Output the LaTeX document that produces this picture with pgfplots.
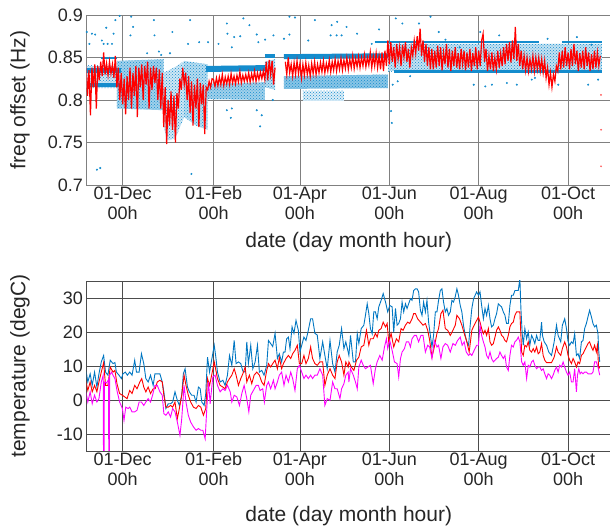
\documentclass[border=0pt]{standalone}
\usepackage{fontspec}
\setmainfont{Liberation Sans}
\usepackage{pgfplots}
\pgfplotsset{compat=1.18}
\usetikzlibrary{patterns}
\definecolor{dotblue}{RGB}{20,140,205}
\definecolor{lineblue}{RGB}{0,118,194}
\definecolor{tred}{RGB}{255,0,0}
\definecolor{tmag}{RGB}{255,0,255}

% shared look of both panels (x = days after 01-Dec)
\pgfplotsset{
  dateaxis/.style={
    scale only axis, width=524.5pt, height=170pt,
    xmin=-24.7, xmax=333.3,
    xtick={0,62,121,182,243,304},
    xticklabels={{01-Dec\\00h},{01-Feb\\00h},{01-Apr\\00h},{01-Jun\\00h},{01-Aug\\00h},{01-Oct\\00h}},
    xticklabel style={align=center, font=\fontsize{18}{20}\selectfont, text=black!85, yshift=2pt},
    yticklabel style={font=\fontsize{18}{20}\selectfont, text=black!85},
    label style={font=\fontsize{21}{24}\selectfont, text=black!85},
    ylabel style={at={(axis description cs:-0.127,0.5)}, anchor=center},
    grid=major, tick style={draw=none},
    xlabel={date (day month hour)},
  },
  dotcloud/.style={draw=none, pattern=crosshatch dots, pattern color=dotblue},
}

\begin{document}
\begin{tikzpicture}[x=1pt,y=1pt]
\useasboundingbox (0,0) rectangle (610,529);

% ---------------- frequency offset ----------------
\begin{axis}[dateaxis, at={(86.5pt,344pt)},
  ymin=0.7, ymax=0.9,
  ytick={0.7,0.75,0.8,0.85,0.9}, yticklabels={0.7,0.75,0.8,0.85,0.9},
  ylabel={freq offset (Hz)},
  xlabel style={at={(axis description cs:0.5,-0.333)}, anchor=center},
  major grid style={black!50, line width=0.9pt},
  axis line style={black!50, line width=0.9pt}]
% dense scatter regions
\addplot[dotcloud, preaction={fill=dotblue!20}] coordinates {(-25,0.840) (-4,0.840) (-4,0.814) (-25,0.814)} -- cycle;
\addplot[dotcloud, preaction={fill=dotblue!40}] coordinates {(-4,0.846) (28,0.848) (28,0.788) (-4,0.790)} -- cycle;
\addplot[dotcloud, preaction={fill=dotblue!20}] coordinates {(28,0.832) (37,0.840) (42,0.846) (42,0.780) (36,0.755) (30,0.752) (28,0.770)} -- cycle;
\addplot[dotcloud, preaction={fill=dotblue!30}] coordinates {(42,0.846) (58,0.842) (58,0.765) (50,0.770) (42,0.780)} -- cycle;
\addplot[dotcloud, preaction={fill=dotblue!40}] coordinates {(57,0.819) (97,0.821) (97,0.800) (57,0.801)} -- cycle;
\addplot[dotcloud, preaction={fill=dotblue!30}] coordinates {(97,0.845) (104,0.848) (104,0.812) (97,0.815)} -- cycle;
\addplot[dotcloud, preaction={fill=dotblue!50}] coordinates {(110,0.828) (181,0.830) (181,0.814) (110,0.813)} -- cycle;
\addplot[dotcloud, preaction={fill=dotblue!15}] coordinates {(123,0.811) (151,0.811) (151,0.799) (123,0.799)} -- cycle;
\addplot[dotcloud, preaction={fill=dotblue!25}] coordinates {(181,0.866) (327,0.866) (327,0.834) (181,0.834)} -- cycle;
% quantised bands
\addplot[dotblue, line width=5pt] coordinates {(-25,0.8345) (-1,0.8345)};
\addplot[dotblue, line width=3.5pt] coordinates {(-23,0.8175) (-2,0.8175)};
\addplot[dotblue, line width=2.5pt] coordinates {(-15,0.8495) (-4,0.8495)};
\addplot[dotblue, line width=6pt] coordinates {(57,0.8365) (97,0.8375)};
\addplot[dotblue, line width=3.5pt] coordinates {(97,0.8515) (104,0.8515)};
\addplot[dotblue, line width=5pt] coordinates {(110,0.851) (181,0.852)};
\addplot[dotblue, line width=2.5pt] coordinates {(172,0.868) (200,0.868)};
\addplot[dotblue, line width=2.5pt] coordinates {(204,0.868) (284,0.868)};
\addplot[dotblue, line width=2.5pt] coordinates {(300,0.868) (327,0.868)};
\addplot[dotblue, line width=3.5pt] coordinates {(185,0.8335) (327,0.8335)};
% outliers
\addplot[only marks, mark=*, mark size=0.8pt, dotblue] coordinates {
(-24.5,0.880) (-22.7,0.866) (-21,0.878) (-18.8,0.877) (-14.2,0.870) (-13,0.866) (-11.2,0.885) (-10.3,0.866)
(-7.3,0.866) (-6.2,0.878) (-5,0.894) (-2.1,0.899) (5.3,0.876) (7.1,0.886) (5.8,0.898) (16.7,0.855)
(21.7,0.876) (21.3,0.894) (24.7,0.857) (26.3,0.853) (32.3,0.855) (33.9,0.880) (46,0.894) (44.6,0.866)
(52.2,0.868) (58.3,0.868) (-17.6,0.718) (-15.3,0.720) (46.9,0.713) (65.4,0.866) (71.1,0.890) (71.5,0.878)
(74.5,0.862) (76.1,0.874) (80.2,0.875) (82.4,0.896) (86.5,0.888) (91.5,0.877) (92.6,0.868) (97.2,0.871)
(102.9,0.876) (113.8,0.898) (117.6,0.897) (110.1,0.872) (113.8,0.877) (126.7,0.870) (131.2,0.894) (142.6,0.888)
(146.4,0.892) (141.9,0.876) (146,0.876) (149.4,0.876) (152.8,0.886) (71.1,0.788) (74.5,0.790) (73.8,0.779)
(91.5,0.788) (93.8,0.769) (94.9,0.782) (102.4,0.800) (186.4,0.896) (190.9,0.890) (202.2,0.890) (210.1,0.898)
(215.7,0.880) (220.3,0.871) (244.1,0.880) (183.2,0.787) (183.7,0.773) (187.7,0.822) (184.3,0.818) (247.5,0.816)
(252,0.818) (262.2,0.820) (269,0.818) (279.2,0.824) (297.3,0.818) (317.7,0.818) (324.5,0.824) (281.4,0.826)
(196.2,0.828) (239.6,0.818) (160,0.878) (170,0.866) (175,0.883) (230,0.862) (257,0.876) (290,0.872)
(310,0.874) (320,0.865)};
% filtered offset
\addplot[tred, line width=1.2pt] coordinates {
(-25,0.840) (-24,0.805) (-23,0.835) (-22,0.782) (-21,0.838) (-20,0.815) (-19,0.842) (-18,0.790) (-17,0.840) (-16,0.823)
(-15,0.845) (-14,0.828) (-13,0.856) (-12,0.830) (-11,0.843) (-10,0.829) (-9,0.845) (-8,0.831) (-7,0.842) (-6,0.826)
(-5,0.852) (-4,0.815) (-3,0.838) (-2,0.800) (-1,0.832) (0,0.795) (1,0.825) (2,0.783) (3,0.828) (4,0.800)
(5,0.838) (6,0.790) (7,0.832) (8,0.805) (9,0.840) (10,0.780) (11,0.838) (12,0.815) (13,0.842) (14,0.800)
(15,0.840) (16,0.818) (17,0.845) (18,0.790) (19,0.838) (20,0.812) (21,0.840) (22,0.820) (23,0.838) (24,0.800)
(25,0.836) (26,0.790) (27,0.832) (28,0.768) (29,0.815) (30,0.748) (31,0.800) (32,0.770) (33,0.810) (34,0.765)
(35,0.805) (36,0.750) (37,0.808) (38,0.790) (39,0.825) (40,0.812) (41,0.838) (42,0.818) (43,0.832) (44,0.800)
(45,0.828) (46,0.785) (47,0.822) (48,0.770) (49,0.818) (50,0.790) (51,0.825) (52,0.768) (53,0.820) (54,0.795)
(55,0.818) (56,0.760) (57,0.815) (58,0.812) (59,0.822) (60,0.815) (61,0.825)
(62,0.824) (63,0.816) (64,0.826) (65,0.817) (66,0.827) (67,0.818) (68,0.830) (69,0.817) (70,0.827) (71,0.819)
(72,0.828) (73,0.818) (74,0.831) (75,0.820) (76,0.828) (77,0.819) (78,0.829) (79,0.821) (80,0.833) (81,0.820)
(82,0.829) (83,0.822) (84,0.830) (85,0.822) (86,0.832) (87,0.821) (88,0.831) (89,0.823) (90,0.834) (91,0.822)
(92,0.832) (93,0.824) (94,0.833) (95,0.825) (96,0.834) (97,0.824) (98,0.845) (99,0.823) (100,0.847) (101,0.830)
(102,0.846) (103,0.818) (104,0.838)};
\addplot[tred, line width=1.2pt] coordinates {
(111,0.845) (112,0.830) (113,0.850) (114,0.832) (115,0.842) (116,0.828) (117,0.844) (118,0.830) (119,0.846) (120,0.831)
(121,0.843) (122,0.826) (123,0.842) (124,0.829) (125,0.844) (126,0.830) (127,0.841) (128,0.828) (129,0.843) (130,0.831)
(131,0.845) (132,0.830) (133,0.842) (134,0.832) (135,0.844) (136,0.833) (137,0.846) (138,0.832) (139,0.843) (140,0.834)
(141,0.847) (142,0.833) (143,0.845) (144,0.835) (145,0.848) (146,0.834) (147,0.846) (148,0.836) (149,0.849) (150,0.835)
(151,0.847) (152,0.837) (153,0.850) (154,0.836) (155,0.848) (156,0.838) (157,0.852) (158,0.837) (159,0.849) (160,0.839)
(161,0.851) (162,0.838) (163,0.850) (164,0.840) (165,0.853) (166,0.839) (167,0.850) (168,0.841) (169,0.856) (170,0.838)
(171,0.852) (172,0.840) (173,0.855) (174,0.838) (175,0.852) (176,0.836) (177,0.856) (178,0.834) (179,0.858) (180,0.840)
(181,0.870) (182,0.842) (183,0.868) (184,0.845) (185,0.862) (186,0.838) (187,0.866) (188,0.848) (189,0.862) (190,0.840)
(191,0.865) (192,0.850) (193,0.868) (194,0.845) (195,0.860) (196,0.838) (197,0.862) (198,0.852) (199,0.870) (200,0.855)
(201,0.875) (202,0.858) (203,0.884) (204,0.852) (205,0.870) (206,0.845) (207,0.866) (208,0.840) (209,0.862) (210,0.836)
(211,0.860) (212,0.836) (213,0.858) (214,0.838) (215,0.864) (216,0.840) (217,0.862) (218,0.835) (219,0.856) (220,0.842)
(221,0.866) (222,0.838) (223,0.860) (224,0.834) (225,0.858) (226,0.840) (227,0.862) (228,0.838) (229,0.855) (230,0.836)
(231,0.860) (232,0.842) (233,0.858) (234,0.835) (235,0.856) (236,0.838) (237,0.860) (238,0.834) (239,0.855) (240,0.840)
(241,0.862) (242,0.836) (243,0.858) (244,0.840) (245,0.870) (246,0.878) (247,0.845) (248,0.860) (249,0.834) (250,0.852)
(251,0.836) (252,0.856) (253,0.834) (254,0.850) (255,0.836) (256,0.858) (257,0.838) (258,0.855) (259,0.840) (260,0.862)
(261,0.842) (262,0.866) (263,0.846) (264,0.868) (265,0.844) (266,0.870) (267,0.848) (268,0.886) (269,0.846) (270,0.866)
(271,0.840) (272,0.858) (273,0.836) (274,0.852) (275,0.835) (276,0.850) (277,0.834) (278,0.848) (279,0.836) (280,0.852)
(281,0.834) (282,0.850) (283,0.836) (284,0.850) (285,0.834) (286,0.848) (287,0.832) (288,0.846) (289,0.826) (290,0.838)
(291,0.818) (292,0.832) (293,0.815) (294,0.830) (295,0.822) (296,0.840) (297,0.834) (298,0.856) (299,0.836) (300,0.858)
(301,0.838) (302,0.862) (303,0.840) (304,0.856) (305,0.836) (306,0.860) (307,0.840) (308,0.866) (309,0.842) (310,0.858)
(311,0.834) (312,0.855) (313,0.838) (314,0.858) (315,0.836) (316,0.862) (317,0.840) (318,0.856) (319,0.834) (320,0.854)
(321,0.836) (322,0.858) (323,0.838) (324,0.856) (325,0.840) (326,0.852)};
\addplot[only marks, mark=*, mark size=0.7pt, tred!60] coordinates {(326.5,0.806) (326.5,0.765) (326.5,0.722)};
\end{axis}

% ---------------- temperature ----------------
\begin{axis}[dateaxis, at={(86.5pt,78pt)},
  ymin=-15, ymax=35,
  ytick={-10,0,10,20,30}, yticklabels={-10,0,10,20,30},
  ylabel={temperature (degC)},
  xlabel style={at={(axis description cs:0.5,-0.38)}, anchor=center},
  major grid style={black!70, line width=0.8pt},
  axis line style={black!70, line width=0.8pt}]
\addplot[lineblue, line width=0.9pt] coordinates {
(-25.4,9.7) (-23.8,5.3) (-22.2,7.7) (-20.8,4.3) (-19.2,8.2) (-17.6,3.8) (-16.2,7.7) (-14.6,11.2) (-13.0,13.1) (-11.7,8.2)
(-10.1,7.3) (-8.5,11.7) (-6.6,10.7) (-5.3,11) (-4.3,8.2) (-2.5,7.3) (-0.9,6.3) (0.2,7.7) (1.8,8.2) (3.2,7.3)
(4.8,8.2) (6.4,7.3) (8.2,11.7) (9.4,8.2) (11.2,8.2) (12.8,13.6) (14.4,10.7) (15.8,6.3) (17.4,5.3) (19.0,7.3)
(20.8,4.3) (22.0,7.7) (23.6,7.7) (25.4,7.7) (27.0,5.3) (28.1,2.4) (29.5,-2.5) (31.1,-1.1) (32.7,-1.1) (34.1,-0.6)
(35.7,2.4) (37.3,-0.1) (38.7,-1.6) (40.3,1.4) (41.4,7.7) (42.6,9.2) (44.2,3.8) (45.5,2.4) (47.1,1.4) (48.7,1.4)
(50.1,-0.6) (51.7,3.8) (52.9,3.3) (54.0,-0.6) (55.6,-1.6) (56.7,1.9) (57.9,12.6) (59.3,8.2) (60.9,12.2) (62.5,16.1)
(63.6,12.5) (64.7,8.2) (66.5,5.3) (68.4,5.8) (69.9,4.3) (71.5,7.3) (72.9,13.1) (74.5,10.2) (76.1,17.5) (77.4,10.7)
(79.0,11.2) (80.6,10.7) (82.0,8.5) (83.6,8.2) (84.7,17.1) (85.8,10.7) (87.4,16.1) (88.8,9.2) (90.4,11.2) (92.0,16.1)
(93.3,8.2) (94.9,8.7) (96.5,7.3) (98.3,10.2) (99.5,17.5) (101.0,16.6) (102.4,15.7) (104.0,19.6) (105.6,12.2) (106.9,13.6)
(108.5,11.2) (109.7,14.1) (110.8,14.1) (111.9,18) (113.1,18.5) (114.2,15.1) (115.6,21.5) (116.9,19.6) (118.3,23.4) (119.9,20.5)
(121.0,14.1) (122.2,16.1) (123.7,18.5) (125.1,17.5) (126.7,20.5) (128.3,23.9) (129.6,23.9) (131.2,19.6) (132.8,19.1) (134.6,12.2)
(136.5,17.1) (138.0,13.1) (139.6,9.2) (141.5,17.5) (143.3,10.7) (144.9,8.2) (146.4,14.1) (147.8,16.1) (149.4,21) (151.0,15.1)
(152.3,17.1) (153.9,14.1) (154.4,13.1) (155.5,19) (157.4,11.2) (158.9,11.2) (160.1,19.5) (161.2,16.6) (162.8,21) (164.6,22)
(165.7,24.9) (166.9,28.3) (168.0,25.4) (169.1,21) (170.3,19.5) (171.4,25.9) (172.5,25.9) (173.7,23.9) (174.8,27.4) (176.4,29.3)
(177.8,31.3) (179.4,28.8) (180.9,25.9) (182.3,27.8) (183.9,27.4) (185.0,20) (186.2,26.9) (187.3,22) (188.4,22.5) (189.6,23.9)
(190.7,28.8) (191.8,25.9) (193.0,28.3) (194.1,26.9) (195.2,28.3) (196.4,29.8) (197.5,29.3) (198.6,32.2) (199.8,32.7) (200.9,32.7)
(202.0,31.8) (203.2,26.4) (204.3,24.9) (205.4,28.8) (206.6,25.9) (207.7,29.3) (208.8,22.9) (210.0,19) (211.1,15.6) (212.2,19)
(213.4,25.9) (214.5,25.9) (215.6,29.3) (216.8,32.2) (217.9,32.7) (219.0,28.8) (220.2,25.9) (221.3,26.9) (222.4,24.9) (223.6,25.9)
(224.7,29.3) (225.8,28.8) (227.0,30.4) (228.1,32.7) (229.2,30.8) (230.4,27.8) (231.5,25.9) (232.6,22) (233.8,19) (234.9,17.1)
(236.1,16.1) (237.2,22) (238.3,26.9) (239.5,29.8) (241.6,31.8) (242.8,30.8) (243.9,31.8) (245.0,27.8) (246.2,23.9) (247.3,26.9)
(248.4,24.9) (249.6,27.8) (250.7,23.9) (251.8,21.5) (253.0,22) (254.1,23.9) (255.2,25.4) (256.4,28.3) (257.5,27.8) (258.6,27.4)
(259.8,25.9) (260.9,24.9) (262.0,22.5) (263.2,22.5) (264.3,27.8) (265.4,30.8) (266.6,30.8) (267.7,32.2) (268.9,32.2) (270.0,32.2)
(271.1,35.7) (271.8,26.9) (272.7,19.5) (273.4,16.1) (274.5,21) (275.7,18) (276.8,20) (277.9,16.1) (279.1,19) (280.2,18)
(281.3,16.6) (282.5,19) (283.6,17.5) (284.7,17.5) (285.9,22.9) (286.5,19) (287.7,17.1) (289.3,16.1) (290.8,14.1) (292.7,13.1)
(294.5,17.1) (296.1,22) (297.2,19) (299.0,17.1) (300.1,22) (301.7,23.9) (302.9,21) (304.0,17.1) (305.1,16.1) (306.3,17.1)
(307.4,16.6) (308.5,19.5) (309.7,13.1) (310.8,13.6) (311.9,12.2) (313.1,17.1) (314.2,17.5) (315.3,21) (316.5,22.5) (317.6,24.5)
(318.7,26.4) (319.9,24.5) (321.0,22.5) (322.1,21.5) (323.3,22) (324.4,19.5) (324.9,14.6) (325.6,11.2)};
\addplot[tred, line width=0.9pt] coordinates {
(-25.4,6.3) (-23.8,2.8) (-22.2,5.3) (-20.8,2.4) (-19.2,4.3) (-17.6,2.4) (-16.2,5.3) (-14.6,8.2) (-13.0,11) (-11.7,4.3)
(-10.1,4.3) (-8.5,9.7) (-6.6,8.2) (-5.3,8.7) (-3.9,4.8) (-2.1,1.9) (-0.2,1.4) (1.4,0.9) (3.0,0.4) (4.8,2.8)
(6.4,1.9) (8.2,4.3) (9.8,3.3) (11.7,5.3) (13.0,6.3) (14.4,3.8) (15.8,2.4) (17.4,3.8) (19.0,1.9) (20.8,3.3)
(22.2,3.3) (23.6,5.3) (25.4,5.8) (27.0,5.3) (28.1,1.4) (29.5,-2.1) (31.1,-2.1) (32.7,-1.6) (34.1,-2.1) (35.7,-0.6)
(37.3,-5.5) (38.7,-2.5) (40.3,1.4) (41.9,7.3) (43.2,4.3) (44.8,1.4) (46.4,-0.6) (48.3,-2.1) (50.1,-2.5) (51.7,-1.6)
(53.3,-2.1) (55.1,-4.5) (56.7,-2.5) (57.9,6.3) (59.3,4.3) (60.9,7.7) (62.5,11.2) (64.7,6.3) (66.5,4.3) (68.4,3.8)
(69.9,3.3) (71.5,5.3) (72.9,6.3) (74.5,7.3) (76.1,9.2) (77.4,7.3) (79.0,4.3) (80.6,6.3) (82.0,7.7) (83.6,9.7)
(84.7,5.3) (86.5,7.3) (88.1,4.8) (89.7,7.3) (91.5,8.2) (93.3,7.3) (94.9,5.3) (96.5,4.3) (98.3,8.7) (99.5,10.7)
(101.0,9.7) (102.4,10.7) (104.0,11.7) (105.6,9.2) (106.9,12.5) (108.5,9.2) (109.7,10.7) (111.5,12.2) (113.1,13.1) (114.7,12.2)
(116.0,13.6) (117.6,14.6) (119.2,16.1) (120.6,10.7) (122.2,10.7) (123.7,13.1) (125.1,10.7) (126.7,12.2) (128.3,15.6) (129.6,12.2)
(131.2,10.7) (132.8,10.2) (134.6,11.2) (136.5,11.2) (138.0,4.3) (139.6,7.3) (141.5,9.2) (143.3,7.3) (144.9,6.3) (146.4,11.2)
(147.8,13.1) (149.4,11.2) (151.0,7.3) (152.3,11.2) (153.9,9.7) (154.4,11.2) (156.0,9.7) (157.8,8.7) (159.6,11.7) (161.2,12.6)
(162.8,15.6) (164.6,16.1) (166.4,20.5) (168.0,16.1) (169.1,18) (171.0,18) (172.5,19.6) (173.7,18.5) (174.8,20.5) (176.4,21)
(177.8,22.9) (179.4,21.5) (180.5,22.5) (181.6,17) (183.2,19.6) (185.0,15.6) (186.8,18) (188.4,17.1) (190.0,21) (191.4,20.5)
(193.0,22) (194.5,22.9) (195.9,22.5) (197.5,23.9) (198.6,25.4) (199.8,25.4) (201.3,23.9) (203.2,22.9) (205.0,22) (206.6,22.5)
(208.2,20.5) (209.5,17.6) (211.1,12.6) (212.7,15.6) (214.5,19.6) (215.6,21) (217.2,25.4) (218.6,26.4) (220.2,21) (221.8,20.5)
(223.6,19) (225.4,20.5) (227.0,22) (228.1,24.9) (229.9,23.9) (231.5,22) (233.1,19.6) (234.9,17.1) (236.5,14.1) (238.3,20.5)
(239.9,22) (241.6,23.4) (242.8,24.4) (243.9,22.9) (245.0,21) (246.2,19.5) (247.3,20.5) (248.4,19) (249.6,21) (250.7,17.1)
(251.8,16.1) (253.0,16.6) (254.1,18.5) (255.2,20.5) (256.4,21.5) (257.5,20.5) (258.6,19) (259.8,18.5) (260.9,17.5) (262.0,17.1)
(263.2,19) (264.3,21.5) (265.4,22.5) (266.6,22.9) (267.7,24.9) (268.9,25.9) (270.0,25.9) (271.1,25.9) (272.3,14.1) (273.4,13.1)
(274.5,16.1) (275.7,15.6) (276.8,17.1) (277.9,14.6) (279.1,14.1) (280.2,15.1) (281.3,14.1) (282.5,15.6) (283.6,13.6) (284.7,14.1)
(285.9,16.6) (287.0,13.1) (288.1,11.7) (289.3,11) (290.8,11) (292.7,11) (294.5,12.6) (296.1,15.6) (297.2,14.1) (299.0,13.1)
(300.1,15.1) (301.7,17.1) (302.9,15.6) (304.0,13.1) (305.1,11.7) (306.3,10.7) (307.4,12.2) (308.5,11.2) (309.7,9.7) (310.8,11.2)
(311.9,10.7) (313.1,13.1) (314.2,13.6) (315.3,14.6) (316.5,15.6) (317.6,16.6) (318.7,17.1) (319.9,15.6) (321.0,14.6) (322.1,16.1)
(323.3,14.1) (324.0,16.1) (324.9,9.2) (325.6,9.7)};
\addplot[tmag, line width=0.9pt] coordinates {
(-25.4,3.3) (-23.8,-0.6) (-22.2,2.4) (-20.8,-1.1) (-19.2,1.4) (-17.6,-0.6) (-16.2,0.4) (-14.6,5.3) (-13.3,7.3) (-13.1,-17)
(-12.7,-17) (-12.5,5.3) (-11.0,5.0) (-9.7,6.0) (-9.5,-17) (-9.1,-17) (-8.9,7.3) (-7.6,8.2) (-6.6,7.3) (-5.3,6.3)
(-3.9,2.8) (-2.1,-0.6) (-0.2,-2.5) (0.9,-6) (2.1,-2.1) (3.7,-2.5) (4.8,-2.1) (6.4,-3.5) (8.2,-3.5) (9.8,-3)
(11.2,-0.6) (12.8,-0.6) (14.4,-1.6) (15.8,-0.6) (17.4,0.4) (19.0,-0.6) (20.4,1.4) (22.0,4.3) (23.6,4.3) (25.4,2.4)
(27.0,1.4) (28.1,-4) (29.5,-4.5) (31.1,-3.5) (32.7,-5) (34.1,-2.5) (35.7,-3.5) (37.3,-6.5) (39.1,-10.4) (40.3,-5.5)
(41.9,4.3) (43.2,-0.6) (44.8,-4.5) (46.4,-6.5) (48.3,-7.9) (50.1,-8.9) (51.7,-8.4) (53.3,-8.9) (54.7,-8.9) (56.3,-11.4)
(57.4,-2.5) (58.6,5.3) (59.7,-1.1) (61.5,6.8) (63.1,7.3) (64.7,4.3) (66.5,2.4) (68.4,3.3) (69.9,2.8) (71.5,4.3)
(73.4,2.4) (74.5,-0.6) (76.1,1.4) (77.9,0.9) (79.7,-1.6) (81.3,1.9) (82.9,4.3) (84.7,0.4) (86.1,-3.5) (87.4,1.4)
(89.2,2.8) (91.1,4.3) (92.6,4.3) (93.8,2.8) (95.6,3.3) (96.7,-0.6) (98.3,4.3) (99.5,5.3) (101.0,3.3) (102.9,5.8)
(104.0,3.3) (105.6,5.3) (106.9,7.3) (108.5,8.2) (110.1,4.3) (111.5,7.3) (113.1,5.3) (114.7,8.2) (116.0,6.3) (117.6,2.8)
(119.2,9.2) (120.6,10.2) (122.2,8.2) (123.7,6.3) (125.1,7.3) (126.7,6.3) (128.3,7.3) (129.6,6.3) (131.2,7.3) (132.8,7.3)
(134.6,9.2) (136.5,7.3) (138.0,-1.6) (139.6,0.4) (141.5,-0.1) (143.3,5.3) (144.9,3.3) (146.4,3.3) (148.3,0.4) (149.4,3.3)
(151.0,4.8) (152.3,7.3) (153.9,8.2) (154.4,5.3) (155.5,9.2) (157.4,7.3) (158.9,5.3) (160.1,3.3) (161.2,9.7) (162.8,11.7)
(164.2,10.2) (165.7,9.2) (167.3,9.7) (169.1,10.2) (171.0,4.8) (172.5,9.2) (173.7,11.2) (175.5,13.1) (177.1,11.7) (178.7,15.6)
(180.0,18) (180.9,15.1) (182.3,17.5) (183.9,14.6) (185.5,11.2) (187.3,10.7) (188.4,6.8) (189.6,12.2) (190.7,14.1) (192.3,15.1)
(193.6,17.1) (195.2,17.1) (196.4,15.6) (197.5,18) (199.1,19) (200.4,19) (202.0,17.1) (203.6,19) (205.0,19) (206.6,14.1)
(208.2,16.1) (209.5,15.6) (211.1,12.2) (212.7,17.5) (214.5,15.6) (215.6,16.1) (217.2,12.2) (218.6,15.6) (220.2,16.6) (221.8,16.1)
(223.6,14.1) (225.4,16.6) (227.0,16.1) (228.6,17.5) (230.4,18.5) (231.7,16.1) (233.1,17.1) (234.5,14.1) (236.1,13.1) (237.2,13.6)
(238.3,13.1) (239.9,14.6) (241.6,16.1) (242.8,16.1) (243.9,22) (245.0,19) (246.2,17.1) (247.3,15.6) (248.4,13.1) (249.6,12.2)
(250.7,14.1) (251.8,12.2) (253.0,11.2) (254.1,11.7) (255.2,12.2) (256.4,12.6) (257.5,14.1) (258.6,13.1) (259.8,12.2) (260.9,13.1)
(262.0,9.7) (263.2,8.7) (264.3,13.1) (265.4,16.1) (266.6,15.6) (267.7,17.1) (268.9,17.6) (270.0,18.5) (271.1,17.1) (272.3,11.2)
(273.4,10.2) (274.5,11.2) (275.7,6.3) (276.8,10.2) (277.9,9.7) (279.1,11.2) (280.2,11.7) (281.3,10.2) (282.5,9.2) (283.6,9.7)
(284.7,9.7) (285.9,8.7) (287.0,9.2) (288.1,7.7) (289.3,6.3) (290.4,7.7) (291.5,7.3) (292.7,6.3) (293.8,7.3) (294.9,8.7)
(296.1,9.7) (297.2,8.2) (298.3,10.2) (299.5,9.7) (300.6,11.2) (301.7,9.7) (302.9,8.2) (304.0,7.3) (305.1,8.2) (306.3,5.3)
(307.4,5.3) (308.5,9.2) (309.7,2.4) (310.4,7.3) (311.3,9.2) (312.2,7.7) (313.1,8.2) (314.2,7.7) (315.3,8.2) (316.5,8.2)
(317.6,7.7) (318.7,7.7) (319.9,7.7) (321.0,8.2) (322.1,11.2) (323.3,11.2) (324.4,9.7) (325.6,7.3)};
\end{axis}
\end{tikzpicture}
\end{document}
